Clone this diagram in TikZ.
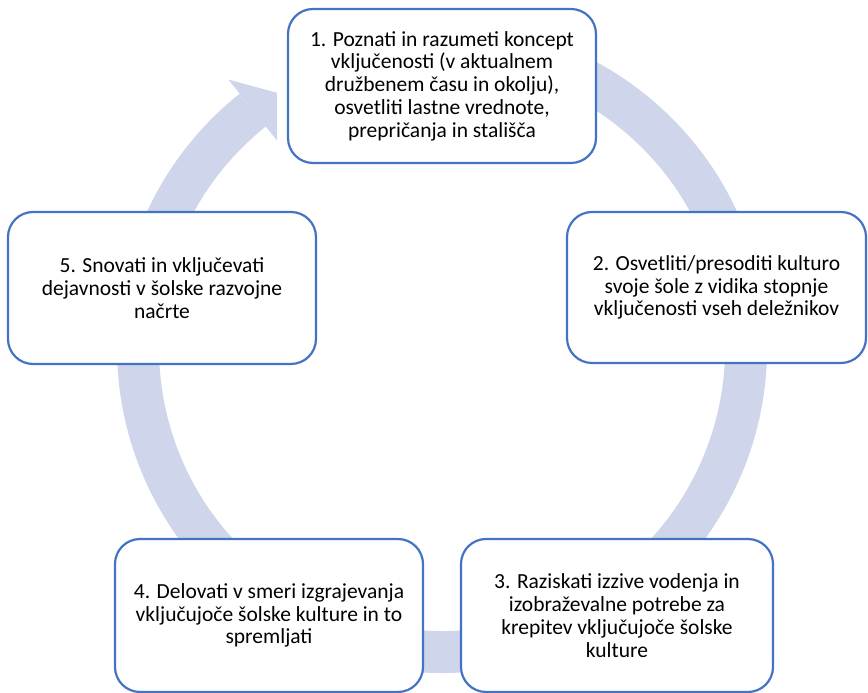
\documentclass[tikz,border=0pt]{standalone}
\usepackage{fontspec}
\setmainfont{Carlito}
\definecolor{ringcol}{HTML}{CFD5EA}
\definecolor{boxblue}{HTML}{4472C4}
\begin{document}
\begin{tikzpicture}[x=1pt,y=1pt,
  stepbox/.style={draw=boxblue, line width=2.2pt, fill=white, rounded corners=25pt,
    align=center, inner sep=0pt, font=\fontsize{21.5}{22.8}\selectfont},
]
\useasboundingbox (0,0) rectangle (868,693);
\coordinate (c) at (442,345);
% ring
\draw[ringcol, line width=42pt] ([shift={(100:304)}]c) arc[start angle=100, end angle=-231.5, radius=304];
\fill[ringcol] ([shift={(128.5:343)}]c) -- ([shift={(122.9:304)}]c) -- ([shift={(128.5:265)}]c) -- cycle;
% boxes
\node[stepbox, minimum width=308pt, minimum height=154pt] (b1) at (442,607)
  {1. Poznati in razumeti koncept\\vključenosti (v aktualnem\\družbenem času in okolju),\\osvetliti lastne vrednote,\\prepričanja in stališča};
\node[stepbox, minimum width=299pt, minimum height=151pt] (b2) at (716.5,405.5)
  {2. Osvetliti/presoditi kulturo\\svoje šole z vidika stopnje\\vključenosti vseh deležnikov};
\node[stepbox, minimum width=312pt, minimum height=153pt] (b3) at (617,77.5)
  {3. Raziskati izzive vodenja in\\izobraževalne potrebe za\\krepitev vključujoče šolske\\kulture};
\node[stepbox, minimum width=308pt, minimum height=153pt] (b4) at (269,77.5)
  {4. Delovati v smeri izgrajevanja\\vključujoče šolske kulture in to\\spremljati};
\node[stepbox, minimum width=308pt, minimum height=152pt] (b5) at (162,405)
  {5. Snovati in vključevati\\dejavnosti v šolske razvojne\\načrte};
\end{tikzpicture}
\end{document}
